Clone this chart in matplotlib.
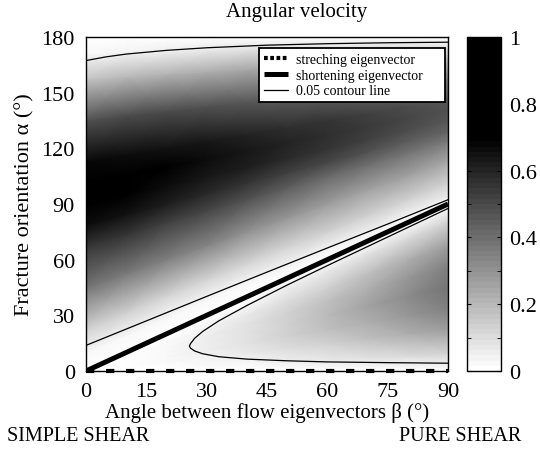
import numpy as np
import matplotlib.pyplot as plt
from matplotlib.colors import ListedColormap

# flow eigenvector angle (columns of the shading)
beta = [0, 10, 20, 30, 40, 50, 60, 70, 80, 90]

# zone above the shortening eigenvector: fraction of the way from alpha=beta to alpha=180
g_up = [0, 0.05, 0.125, 0.25, 0.375, 0.4375, 0.5, 0.5625, 0.625, 0.75, 0.875, 0.95, 1]
w_up = [
    [0, 0, 0, 0, 0, 0, 0, 0, 0, 0],
    [0.025, 0.030, 0.028, 0.028, 0.030, 0.035, 0.040, 0.048, 0.056, 0.065],
    [0.130, 0.130, 0.120, 0.115, 0.115, 0.120, 0.125, 0.130, 0.135, 0.140],
    [0.380, 0.370, 0.350, 0.330, 0.310, 0.295, 0.280, 0.265, 0.255, 0.245],
    [0.550, 0.560, 0.530, 0.500, 0.470, 0.445, 0.420, 0.400, 0.380, 0.360],
    [0.660, 0.650, 0.620, 0.590, 0.560, 0.530, 0.500, 0.475, 0.450, 0.425],
    [0.735, 0.700, 0.670, 0.640, 0.610, 0.580, 0.550, 0.520, 0.490, 0.460],
    [0.755, 0.720, 0.690, 0.660, 0.630, 0.600, 0.570, 0.540, 0.510, 0.480],
    [0.680, 0.670, 0.650, 0.630, 0.600, 0.575, 0.550, 0.520, 0.490, 0.460],
    [0.480, 0.490, 0.490, 0.480, 0.465, 0.450, 0.430, 0.410, 0.390, 0.370],
    [0.170, 0.190, 0.210, 0.225, 0.235, 0.240, 0.235, 0.225, 0.210, 0.195],
    [0.030, 0.045, 0.060, 0.072, 0.080, 0.085, 0.087, 0.085, 0.080, 0.075],
    [0, 0, 0, 0, 0, 0, 0, 0, 0, 0],
]

# zone below the shortening eigenvector: fraction of the way from alpha=0 to alpha=beta
f_low = [0, 0.1, 0.25, 0.375, 0.5, 0.625, 0.75, 0.9, 1]
w_low = [
    [0, 0, 0, 0, 0, 0, 0, 0, 0, 0],
    [0, 0.002, 0.008, 0.018, 0.031, 0.047, 0.064, 0.083, 0.100, 0.117],
    [0, 0.004, 0.017, 0.038, 0.066, 0.100, 0.139, 0.181, 0.225, 0.269],
    [0, 0.0055, 0.0215, 0.048, 0.083, 0.127, 0.177, 0.233, 0.291, 0.351],
    [0, 0.006, 0.023, 0.051, 0.089, 0.136, 0.190, 0.250, 0.314, 0.380],
    [0, 0.0055, 0.0215, 0.048, 0.083, 0.127, 0.177, 0.233, 0.291, 0.351],
    [0, 0.004, 0.017, 0.038, 0.066, 0.100, 0.139, 0.181, 0.225, 0.269],
    [0, 0.002, 0.008, 0.018, 0.031, 0.047, 0.064, 0.083, 0.100, 0.117],
    [0, 0, 0, 0, 0, 0, 0, 0, 0, 0],
]

# eigenvectors
stretch_beta = [0, 90]
stretch_alpha = [0, 0]
short_beta = [0, 90]
short_alpha = [0, 90]

# 0.05 contour lines
top_beta = [0, 5, 10, 20, 30, 45, 60, 75, 90]
top_alpha = [167.3, 169.3, 170.8, 172.8, 174.2, 175.6, 176.4, 176.9, 177.2]
mid_beta = [0, 10, 20, 30, 45, 60, 75, 90]
mid_alpha = [13.8, 22.6, 31.4, 40.2, 53.3, 66.3, 79.2, 92.3]
low_beta = [90, 75, 60, 50, 40, 33, 29, 27, 26, 25.7, 26, 27, 29, 33, 40, 50, 60, 75, 90]
low_alpha = [87.6, 72.2, 56.8, 46.3, 35.3, 27.0, 21.3, 17.6, 14.8, 13.4,
             12.3, 10.8, 9.3, 7.7, 6.4, 5.5, 4.9, 4.5, 4.2]

plt.rcParams['font.family'] = 'Liberation Serif'

# stepped grey map, black above ~0.7
lev = np.linspace(0, 1, 64)
grey = np.clip(1 - 1.43 * lev, 0, 1)
cmap = ListedColormap(np.column_stack([grey, grey, grey]))

fig = plt.figure(figsize=(5.4, 4.52), dpi=100)
ax = fig.add_axes([86/540, 80/452, 362/540, 334/452])
cax = fig.add_axes([467/540, 80/452, 34/540, 334/452])

B = np.array(beta, dtype=float)
Xu, Gu = np.meshgrid(B, np.array(g_up))
Yu = Xu + (180 - Xu) * Gu
Xl, Fl = np.meshgrid(B, np.array(f_low))
Yl = Xl * Fl

m = ax.pcolormesh(Xu, Yu, np.array(w_up), shading='gouraud', cmap=cmap, vmin=0, vmax=1)
ax.pcolormesh(Xl, Yl, np.array(w_low), shading='gouraud', cmap=cmap, vmin=0, vmax=1)

l1, = ax.plot(stretch_beta, stretch_alpha, color='black', lw=3, dashes=(2, 2.8),
              clip_on=False, zorder=5, label='streching eigenvector')
l2, = ax.plot(short_beta, short_alpha, color='black', lw=3.6, solid_capstyle='butt',
              zorder=5, label='shortening eigenvector     ')
l3, = ax.plot(top_beta, top_alpha, color='black', lw=0.9, zorder=4, label='0.05 contour line')
ax.plot(mid_beta, mid_alpha, color='black', lw=0.9, zorder=4)
ax.plot(low_beta, low_alpha, color='black', lw=0.9, zorder=4)

ax.set_xlim(0, 90)
ax.set_ylim(0, 180)
ax.set_xticks(range(0, 91, 15))
ax.set_yticks(range(0, 181, 30))
ax.tick_params(length=0, labelsize=16, pad=8)
for s in ax.spines.values():
    s.set_linewidth(1.0)
ax.set_xlabel('Angle between flow eigenvectors β (°)', fontsize=15, labelpad=1)
ax.set_ylabel('Fracture orientation α (°)', fontsize=16, labelpad=5)

leg = ax.legend(handles=[l1, l2, l3], loc='upper right', bbox_to_anchor=(0.992, 0.967),
                borderaxespad=0, fontsize=10, fancybox=False, framealpha=1,
                edgecolor='black', handlelength=1.7, borderpad=0.35, labelspacing=0.2,
                handletextpad=0.6)
leg.get_frame().set_linewidth(1.3)
leg.legend_handles[0].set_dashes((0.9, 0.6))

cb = fig.colorbar(m, cax=cax)
cb.set_ticks([0, 0.2, 0.4, 0.6, 0.8, 1])
cb.set_ticklabels(['0', '0.2', '0.4', '0.6', '0.8', '1'])
cax.set_yticks(np.arange(0.1, 1, 0.2), minor=True)
cax.tick_params(which='both', direction='in', left=True, right=True, length=3, labelsize=16, pad=6)
cb.outline.set_linewidth(1.0)

fig.text(297/540, 1 - 13/452, 'Angular velocity', ha='center', va='center', fontsize=15)
fig.text(7/540, 1 - 437/452, 'SIMPLE SHEAR', ha='left', va='center', fontsize=14.5)
fig.text(521/540, 1 - 437/452, 'PURE SHEAR', ha='right', va='center', fontsize=14.5)

fig.savefig('out.png', dpi=100)
